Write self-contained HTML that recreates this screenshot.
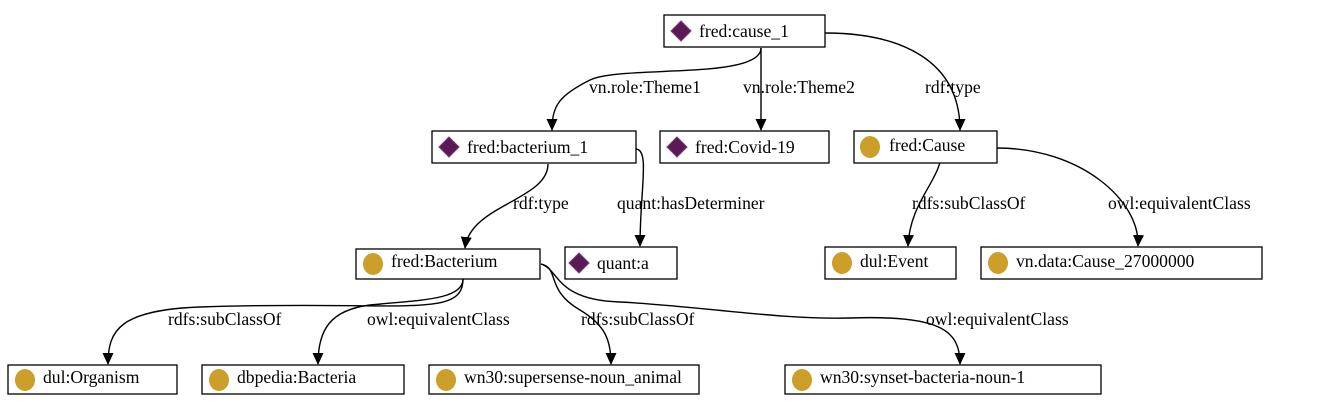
<!DOCTYPE html>
<html><head><meta charset="utf-8"><style>
html,body{margin:0;padding:0;background:#fff;}
svg{display:block}
text{font-family:"Liberation Serif",serif;font-size:17.6px;fill:#000}
.n{fill:#fff;stroke:#000;stroke-width:1.3}
.e{fill:none;stroke:#000;stroke-width:1.4}
.d{fill:#5a1a55;stroke:#7a3a75;stroke-width:1}
.c{fill:#cc9e2a}
</style></head><body>
<svg width="1331" height="412" viewBox="0 0 1331 412" xmlns="http://www.w3.org/2000/svg">
<defs><marker id="a" markerWidth="12" markerHeight="12" refX="11" refY="5.5" orient="auto" markerUnits="userSpaceOnUse"><path d="M0,0 L12,5.5 L0,11 z" fill="#000"/></marker></defs>
<path class="e" marker-end="url(#a)" d="M761,48 C761,80 620,65 590,80 C560,95 552,105 552,130"/>
<path class="e" marker-end="url(#a)" d="M761,48 L761,130"/>
<path class="e" marker-end="url(#a)" d="M825,33 C900,33 960,60 960,130"/>
<path class="e" marker-end="url(#a)" d="M548,164 C548,200 470,205 465,248"/>
<path class="e" marker-end="url(#a)" d="M636,149 C650,150 640,190 640,246"/>
<path class="e" marker-end="url(#a)" d="M942,149 C942,180 910,200 908,246"/>
<path class="e" marker-end="url(#a)" d="M997,148 C1080,148 1140,200 1138,246"/>
<path class="e" marker-end="url(#a)" d="M463,279 C463,320 400,300 200,307 C120,310 108,330 108,364"/>
<path class="e" marker-end="url(#a)" d="M463,279 C463,300 420,300 370,305 C330,310 318,330 318,364"/>
<path class="e" marker-end="url(#a)" d="M541,264 C560,268 545,290 580,310 C605,325 611,340 611,364"/>
<path class="e" marker-end="url(#a)" d="M541,264 C560,270 555,300 620,302 C700,306 780,320 850,318 C940,315 960,330 960,364"/>
<text x="589" y="93">vn.role:Theme1</text>
<text x="743" y="93">vn.role:Theme2</text>
<text x="925" y="93">rdf:type</text>
<text x="513" y="209">rdf:type</text>
<text x="617" y="209">quant:hasDeterminer</text>
<text x="912" y="209">rdfs:subClassOf</text>
<text x="1108" y="209">owl:equivalentClass</text>
<text x="168" y="325">rdfs:subClassOf</text>
<text x="367" y="325">owl:equivalentClass</text>
<text x="581" y="325">rdfs:subClassOf</text>
<text x="926" y="325">owl:equivalentClass</text>
<rect class="n" x="664" y="15" width="161" height="32"/><path class="d" d="M681,21 l10,10 l-10,10 l-10,-10z"/><text x="699" y="37">fred:cause_1</text>
<rect class="n" x="432" y="131" width="204" height="32"/><path class="d" d="M449,137 l10,10 l-10,10 l-10,-10z"/><text x="467" y="153">fred:bacterium_1</text>
<rect class="n" x="660" y="131" width="169" height="32"/><path class="d" d="M677,137 l10,10 l-10,10 l-10,-10z"/><text x="695" y="153">fred:Covid-19</text>
<rect class="n" x="854" y="131" width="143" height="32"/><ellipse class="c" cx="870" cy="147" rx="10" ry="11"/><text x="889" y="151">fred:Cause</text>
<rect class="n" x="356" y="249" width="184" height="30"/><ellipse class="c" cx="373" cy="264" rx="10" ry="11"/><text x="391" y="267">fred:Bacterium</text>
<rect class="n" x="565" y="247" width="112" height="32"/><path class="d" d="M579,253 l10,10 l-10,10 l-10,-10z"/><text x="597" y="269">quant:a</text>
<rect class="n" x="825" y="247" width="131" height="32"/><ellipse class="c" cx="842" cy="263" rx="10" ry="11"/><text x="860" y="267">dul:Event</text>
<rect class="n" x="981" y="247" width="281" height="32"/><ellipse class="c" cx="998" cy="263" rx="10" ry="11"/><text x="1016" y="267">vn.data:Cause_27000000</text>
<rect class="n" x="8" y="365" width="169" height="29"/><ellipse class="c" cx="25" cy="380" rx="10" ry="11"/><text x="43" y="383">dul:Organism</text>
<rect class="n" x="202" y="365" width="202" height="29"/><ellipse class="c" cx="219" cy="380" rx="10" ry="11"/><text x="237" y="383">dbpedia:Bacteria</text>
<rect class="n" x="429" y="365" width="270" height="29"/><ellipse class="c" cx="446" cy="380" rx="10" ry="11"/><text x="464" y="383">wn30:supersense-noun_animal</text>
<rect class="n" x="785" y="365" width="316" height="29"/><ellipse class="c" cx="802" cy="380" rx="10" ry="11"/><text x="820" y="383">wn30:synset-bacteria-noun-1</text>
</svg>
</body></html>
